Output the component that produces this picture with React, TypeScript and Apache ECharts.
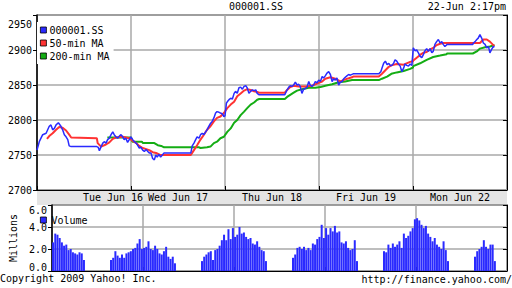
import React, { useEffect, useRef } from "react";
import * as echarts from "echarts";

// ---- data ----
const dayLabels = ["Tue Jun 16", "Wed Jun 17", "Thu Jun 18", "Fri Jun 19", "Mon Jun 22"];
const priceTicks = { min: 2700, max: 2950, step: 50 };
const volumeTicks = { min: 0, max: 6, step: 2 };

const priceJun16: [string, number][] = [["09:30",2757],["09:38",2769],["09:50",2779],["10:02",2781],["10:13",2791],["10:19",2793],["10:25",2786],["10:31",2788],["10:37",2793],["10:45",2796],["10:54",2791],["11:00",2786],["11:06",2779],["11:12",2776],["11:18",2772],["11:23",2763],["11:30",2762],["13:00",2762],["13:05",2761],["13:09",2756],["13:15",2762],["13:21",2767],["13:26",2769],["13:32",2767],["13:38",2772],["13:44",2774],["13:50",2779],["13:56",2783],["14:01",2779],["14:07",2776],["14:13",2774],["14:19",2777],["14:25",2779],["14:31",2776],["14:36",2772],["14:42",2774],["14:48",2768],["14:54",2772],["15:00",2776]];
const priceJun17: [string, number][] = [["09:36",2772],["09:42",2769],["09:48",2767],["09:53",2764],["09:59",2760],["10:05",2761],["10:11",2757],["10:17",2755],["10:23",2758],["10:29",2755],["10:34",2753],["10:40",2753],["10:46",2745],["10:52",2743],["10:57",2750],["11:02",2747],["11:08",2751],["11:14",2747],["11:20",2750],["11:26",2753],["11:30",2753],["13:00",2753],["13:02",2757],["13:05",2763],["13:11",2767],["13:17",2772],["13:22",2776],["13:29",2774],["13:34",2779],["13:40",2781],["13:46",2779],["13:52",2783],["13:57",2786],["14:03",2791],["14:09",2795],["14:15",2798],["14:21",2803],["14:27",2810],["14:32",2812],["14:39",2811],["14:44",2810],["14:50",2809],["14:56",2805],["15:00",2806]];
const priceJun18: [string, number][] = [["09:35",2824],["09:38",2826],["09:44",2829],["09:50",2831],["09:56",2830],["10:02",2838],["10:07",2841],["10:13",2838],["10:19",2846],["10:25",2847],["10:31",2844],["10:37",2848],["10:43",2849],["10:48",2846],["10:54",2838],["11:00",2841],["11:06",2843],["11:12",2842],["11:18",2843],["11:23",2838],["11:30",2836],["13:00",2836],["13:02",2838],["13:08",2843],["13:14",2847],["13:19",2849],["13:25",2848],["13:31",2850],["13:37",2854],["13:43",2850],["13:49",2851],["13:54",2848],["14:00",2838],["14:06",2844],["14:12",2845],["14:18",2847],["14:24",2855],["14:29",2850],["14:35",2848],["14:41",2850],["14:47",2855],["14:53",2853],["14:59",2857]];
const priceJun19: [string, number][] = [["09:35",2855],["09:41",2862],["09:46",2860],["09:52",2863],["09:58",2867],["10:04",2869],["10:10",2865],["10:16",2855],["10:22",2859],["10:27",2857],["10:33",2860],["10:39",2850],["10:45",2854],["10:51",2855],["10:57",2859],["11:02",2861],["11:08",2863],["11:14",2865],["11:20",2864],["11:30",2866],["13:00",2866],["13:02",2867],["13:07",2869],["13:11",2874],["13:17",2881],["13:23",2884],["13:29",2879],["13:35",2881],["13:40",2878],["13:46",2878],["13:52",2881],["13:57",2886],["14:03",2884],["14:09",2880],["14:15",2877],["14:21",2869],["14:27",2874],["14:32",2880],["14:38",2878],["14:44",2877],["14:50",2880],["14:56",2878]];
const priceJun22: [string, number][] = [["09:31",2903],["09:37",2899],["09:43",2900],["09:49",2896],["09:55",2891],["10:01",2889],["10:06",2893],["10:12",2899],["10:18",2902],["10:24",2898],["10:30",2902],["10:36",2896],["10:41",2898],["10:47",2908],["10:53",2912],["10:59",2915],["11:05",2910],["11:11",2912],["11:16",2908],["11:22",2905],["11:30",2908],["13:00",2908],["13:02",2910],["13:08",2912],["13:14",2915],["13:19",2917],["13:25",2922],["13:31",2917],["13:37",2910],["13:43",2908],["13:49",2903],["13:55",2905],["14:00",2896],["14:06",2901],["14:12",2905],["14:16",2904]];

const ma50Jun16: [string, number][] = [["10:05",2773],["10:13",2777],["10:25",2781],["10:37",2786],["10:48",2790],["11:00",2789],["11:12",2785],["11:23",2779],["11:30",2775],["13:00",2774],["13:03",2767],["13:15",2762],["13:32",2765],["13:44",2768],["13:56",2773],["14:07",2775],["14:31",2776],["14:54",2774],["15:00",2772]];
const ma50Jun17: [string, number][] = [["09:48",2767],["09:59",2763],["10:11",2760],["10:34",2757],["10:46",2754],["10:58",2753],["11:12",2750],["11:30",2750],["13:00",2750],["13:11",2757],["13:22",2764],["13:34",2772],["13:46",2779],["13:57",2786],["14:09",2791],["14:21",2798],["14:32",2803],["14:44",2805],["14:56",2810]];
const ma50Jun18: [string, number][] = [["09:38",2817],["09:50",2822],["10:02",2826],["10:13",2834],["10:25",2838],["10:37",2842],["10:48",2844],["11:00",2843],["11:12",2841],["11:23",2840],["11:30",2839],["13:00",2839],["13:08",2843],["13:19",2847],["13:31",2849],["13:49",2848],["14:12",2848],["14:35",2849],["14:59",2853]];
const ma50Jun19: [string, number][] = [["09:41",2855],["09:52",2859],["10:10",2861],["10:27",2859],["10:45",2855],["11:02",2858],["11:26",2861],["11:30",2862],["13:00",2862],["13:11",2866],["13:23",2871],["13:35",2876],["13:44",2878],["14:03",2880],["14:27",2879],["14:50",2883],["15:00",2884]];
const ma50Jun22: [string, number][] = [["09:31",2885],["09:43",2889],["09:55",2893],["10:06",2896],["10:18",2897],["10:30",2901],["10:41",2903],["10:53",2907],["11:05",2909],["11:16",2910],["11:30",2910],["13:00",2910],["13:25",2910],["13:37",2915],["13:49",2915],["14:00",2912],["14:12",2907],["14:16",2906]];

const ma200Jun16: [string, number][] = [["13:37",2775],["15:00",2775]];
const ma200Jun17: [string, number][] = [["09:35",2769],["10:08",2769],["10:12",2767],["10:52",2767],["11:04",2764],["11:16",2763],["11:26",2761],["11:30",2761],["13:00",2761],["13:29",2761],["13:34",2760],["13:57",2761],["14:09",2762],["14:21",2767],["14:32",2769],["14:44",2774],["14:56",2776]];
const ma200Jun18: [string, number][] = [["09:38",2783],["09:50",2788],["10:02",2796],["10:13",2800],["10:25",2807],["10:37",2812],["10:48",2817],["11:00",2822],["11:12",2825],["11:23",2829],["11:30",2830],["13:00",2830],["13:08",2833],["13:19",2836],["13:31",2839],["13:43",2842],["14:00",2844],["14:24",2846],["14:47",2846]];
const ma200Jun19: [string, number][] = [["09:35",2847],["09:52",2849],["10:16",2851],["10:39",2854],["11:02",2855],["11:26",2857],["11:30",2857],["13:00",2857],["13:11",2859],["13:29",2862],["13:44",2866],["14:03",2868],["14:27",2870],["14:50",2873],["15:00",2875]];
const ma200Jun22: [string, number][] = [["09:31",2877],["09:55",2881],["10:18",2886],["10:41",2890],["11:05",2892],["11:28",2894],["11:30",2895],["13:00",2895],["13:02",2895],["13:14",2898],["13:25",2902],["13:43",2904],["14:00",2905],["14:16",2907]];

// volume in millions, 8-minute bars from the session opens (09:30 and 13:00)
const volJun16Am = [2.6, 3.4, 3.3, 3.0, 2.6, 2.3, 2.4, 1.9, 2.0, 1.7, 1.6, 1.5, 1.7, 1.6, 1.0];
const volJun16Pm = [1.0, 1.2, 1.8, 1.4, 1.2, 1.5, 1.2, 1.6, 1.7, 1.8, 2.0, 2.1, 2.5, 2.9, 2.0];
const volJun17Am = [2.1, 2.2, 2.7, 2.0, 1.9, 2.3, 2.0, 1.6, 1.5, 1.8, 2.2, 1.3, 1.1, 1.3, 0.7];
const volJun17Pm = [0.9, 1.3, 1.5, 1.7, 1.8, 1.0, 1.9, 2.0, 2.3, 2.8, 3.3, 2.8, 3.8, 2.9, 3.9];
const volJun18Am = [3.1, 3.3, 4.0, 3.4, 3.5, 3.1, 2.9, 3.0, 2.5, 2.4, 2.7, 2.2, 1.9, 1.8, 0.9];
const volJun18Pm = [1.2, 1.5, 2.1, 2.2, 2.0, 2.2, 1.9, 2.1, 1.9, 2.5, 2.4, 2.9, 3.1, 4.2, 3.0];
const volJun19Am = [3.9, 3.3, 3.9, 3.6, 4.1, 3.5, 3.6, 2.6, 2.5, 2.7, 2.1, 1.9, 2.0, 2.8, 0.9];
const volJun19Pm = [1.8, 1.7, 2.4, 2.1, 2.5, 2.2, 2.4, 2.7, 2.1, 3.4, 3.0, 3.2, 3.6, 3.9, 4.7];
const volJun22Am = [4.8, 4.6, 4.2, 3.9, 4.1, 3.4, 3.1, 2.7, 3.0, 2.4, 2.2, 2.0, 2.7, 1.9, 0.9];
const volJun22Pm = [1.3, 1.8, 2.0, 2.2, 2.8, 2.2, 2.0, 2.4, 2.4, 0.9];

// ---- helpers ----
const DAY_MIN = 330; // 09:30 - 15:00 incl. lunch break
const BAR_MIN = 8;
const toT = (day: number, hhmm: string) => {
  const [h, m] = hhmm.split(":").map(Number);
  return day * DAY_MIN + h * 60 + m - 570;
};
const buildLine = (days: [string, number][][]) =>
  days.flatMap((arr, d) => arr.map(([t, v]) => [toT(d, t), v]));
const buildBars = (days: number[][][]) =>
  days.flatMap((sessions, d) =>
    sessions.flatMap((vals, s) =>
      vals.map((v, i) => [toT(d, s === 0 ? "09:30" : "13:00") + i * BAR_MIN + BAR_MIN / 2, v])
    )
  );

const FONT = "DejaVu Sans Mono";
const BLUE = "#2a2aff";
const RED = "#ff3333";
const GREEN = "#14ad14";
const GRID_GRAY = "#a9a9a9";

export default function App() {
  const ref = useRef<HTMLDivElement>(null);
  useEffect(() => {
    if (!ref.current) return;
    const chart = echarts.init(ref.current, undefined, { renderer: "svg" });
    const txt = { fontFamily: FONT, fontSize: 10, color: "#000", fontWeight: "normal" as const };
    const price = buildLine([priceJun16, priceJun17, priceJun18, priceJun19, priceJun22]);
    const ma50 = buildLine([ma50Jun16, ma50Jun17, ma50Jun18, ma50Jun19, ma50Jun22]);
    const ma200 = buildLine([ma200Jun16, ma200Jun17, ma200Jun18, ma200Jun19, ma200Jun22]);
    const vol = buildBars([
      [volJun16Am, volJun16Pm],
      [volJun17Am, volJun17Pm],
      [volJun18Am, volJun18Pm],
      [volJun19Am, volJun19Pm],
      [volJun22Am, volJun22Pm],
    ]);
    const timeAxis = (gridIndex: number) => ({
      type: "value" as const,
      gridIndex,
      min: 0,
      max: DAY_MIN * dayLabels.length,
      interval: DAY_MIN,
      axisLine: { show: true, lineStyle: { color: "#000", width: 1 } },
      axisTick: { show: true, inside: true, length: 4, lineStyle: { color: "#000" } },
      axisLabel: { show: false },
      splitLine: { show: true, lineStyle: { color: GRID_GRAY, width: 1.5 } },
    });
    chart.setOption({
      animation: false,
      backgroundColor: "#fff",
      textStyle: { fontFamily: FONT },
      title: [
        { text: "000001.SS", left: "center", top: 1, padding: 0, textStyle: txt },
        { text: "22-Jun 2:17pm", right: 6, top: 1, padding: 0, textStyle: txt },
        { text: "Copyright 2009 Yahoo! Inc.", left: 0, top: 273, padding: 0, textStyle: txt },
        { text: "http://finance.yahoo.com/", right: 0, top: 274, padding: 0, textStyle: txt },
      ],
      graphic: [
        {
          type: "rect",
          z: -1,
          shape: { x: 37, y: 190, width: 470, height: 15 },
          style: { fill: "#e4e4e4" },
        },
      ],
      legend: [
        {
          data: [
            { name: "000001.SS", icon: "rect" },
            { name: "50-min MA", icon: "rect" },
            { name: "200-min MA", icon: "rect" },
          ],
          orient: "vertical",
          left: 37,
          top: 22,
          padding: [2, 4, 2, 3],
          itemWidth: 6,
          itemHeight: 6,
          itemGap: 1,
          backgroundColor: "#fff",
          selectedMode: false,
          itemStyle: { borderColor: "#000", borderWidth: 0.8 },
          lineStyle: { width: 0 },
          textStyle: { ...txt, lineHeight: 12, padding: [0, 0, 0, -2] },
        },
        {
          data: [{ name: "Volume", icon: "rect" }],
          left: 37,
          top: 212,
          padding: [2, 4, 2, 3],
          itemWidth: 6,
          itemHeight: 6,
          selectedMode: false,
          itemStyle: { borderColor: "#000", borderWidth: 0.8 },
          textStyle: { ...txt, lineHeight: 12, padding: [0, 0, 0, 0] },
        },
      ],
      grid: [
        { left: 37, top: 15, width: 470, height: 175, show: true, borderColor: "#000", borderWidth: 1 },
        { left: 37, top: 205, width: 470, height: 66, show: true, borderColor: "#000", borderWidth: 1 },
      ],
      xAxis: [
        timeAxis(0),
        {
          type: "category",
          gridIndex: 0,
          position: "bottom",
          data: dayLabels,
          boundaryGap: true,
          axisLine: { show: false },
          axisTick: { show: false },
          splitLine: { show: false },
          axisLabel: {
            ...txt,
            margin: 2,
            interval: 0,
            hideOverlap: false,
            formatter: (v: string, i: number) => (i === 0 ? `{s|${v}}` : v),
            rich: { s: { ...txt, padding: [0, 0, 0, 58] } },
          },
        },
        timeAxis(1),
      ],
      yAxis: [
        {
          type: "value",
          gridIndex: 0,
          min: priceTicks.min,
          max: priceTicks.max,
          interval: priceTicks.step,
          axisLine: { show: true, lineStyle: { color: "#000", width: 1.5 } },
          axisTick: { show: true, length: 4, lineStyle: { color: "#000" } },
          axisLabel: {
            ...txt,
            margin: 5,
            formatter: (v: number) => (v === priceTicks.max ? `{t|${v}}` : `${v}`),
            rich: { t: { ...txt, padding: [18, 0, 0, 0] } },
          },
          splitLine: { show: true, lineStyle: { color: GRID_GRAY, width: 1.5 } },
        },
        {
          type: "value",
          gridIndex: 0,
          position: "right",
          min: priceTicks.min,
          max: priceTicks.max,
          interval: priceTicks.step,
          axisLine: { show: true, lineStyle: { color: "#000" } },
          axisTick: { show: true, inside: true, length: 4, lineStyle: { color: "#000" } },
          axisLabel: { show: false },
          splitLine: { show: false },
        },
        {
          type: "value",
          gridIndex: 1,
          min: volumeTicks.min,
          max: volumeTicks.max,
          interval: volumeTicks.step,
          name: "Millions",
          nameLocation: "middle",
          nameRotate: 90,
          nameGap: 31,
          nameTextStyle: txt,
          axisLine: { show: true, lineStyle: { color: "#000", width: 1.5 } },
          axisTick: { show: true, length: 4, lineStyle: { color: "#000" } },
          axisLabel: {
            ...txt,
            margin: 5,
            formatter: (v: number) =>
              v === volumeTicks.max ? `{t|${v.toFixed(1)}}` : v === volumeTicks.min ? `{b|${v.toFixed(1)}}` : v.toFixed(1),
            rich: { t: { ...txt, padding: [10, 0, 0, 0] }, b: { ...txt, padding: [0, 0, 7, 0] } },
          },
          splitLine: { show: true, lineStyle: { color: GRID_GRAY, width: 1.5 } },
        },
        {
          type: "value",
          gridIndex: 1,
          position: "right",
          min: volumeTicks.min,
          max: volumeTicks.max,
          interval: volumeTicks.step,
          axisLine: { show: true, lineStyle: { color: "#000" } },
          axisTick: { show: true, inside: true, length: 4, lineStyle: { color: "#000" } },
          axisLabel: { show: false },
          splitLine: { show: false },
        },
      ],
      series: [
        {
          name: "200-min MA",
          type: "line",
          xAxisIndex: 0,
          yAxisIndex: 0,
          data: ma200,
          showSymbol: false,
          color: GREEN,
          lineStyle: { color: GREEN, width: 2 },
        },
        {
          name: "50-min MA",
          type: "line",
          xAxisIndex: 0,
          yAxisIndex: 0,
          data: ma50,
          showSymbol: false,
          color: RED,
          lineStyle: { color: RED, width: 2 },
        },
        {
          name: "000001.SS",
          type: "line",
          xAxisIndex: 0,
          yAxisIndex: 0,
          data: price,
          showSymbol: false,
          color: BLUE,
          lineStyle: { color: BLUE, width: 1.5 },
        },
        {
          name: "Volume",
          type: "bar",
          xAxisIndex: 2,
          yAxisIndex: 2,
          data: vol,
          barWidth: 2,
          color: BLUE,
          itemStyle: { color: BLUE },
        },
      ],
    });
    return () => chart.dispose();
  }, []);
  return (
    <div
      ref={ref}
      style={{ position: "fixed", left: 0, top: 0, width: 512, height: 288, background: "#fff" }}
    />
  );
}
